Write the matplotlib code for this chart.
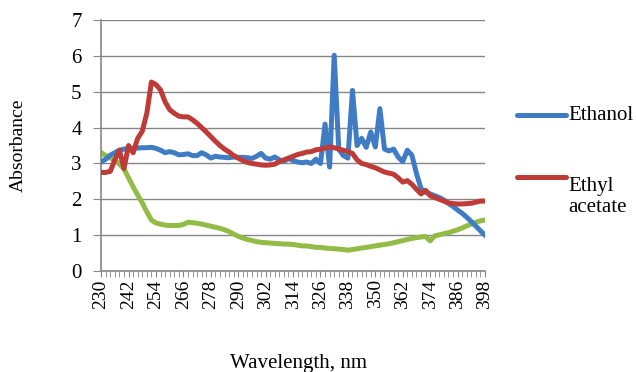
import matplotlib
matplotlib.use("Agg")
import matplotlib.pyplot as plt
import matplotlib.ticker as ticker
from matplotlib.lines import Line2D

plt.rcParams["font.family"] = ["Liberation Serif", "DejaVu Serif"]

wavelength = list(range(230, 400, 2))
tick_labels = [str(w) for w in range(230, 400, 12)]

ethanol = [3.04, 3.12, 3.23, 3.30, 3.37, 3.40, 3.42, 3.42, 3.43, 3.44,
           3.44, 3.45, 3.42, 3.37, 3.30, 3.33, 3.30, 3.24, 3.25, 3.27,
           3.22, 3.22, 3.30, 3.24, 3.15, 3.20, 3.18, 3.17, 3.16, 3.18,
           3.17, 3.17, 3.16, 3.14, 3.20, 3.28, 3.15, 3.12, 3.18, 3.10,
           3.06, 3.14, 3.08, 3.04, 3.02, 3.04, 3.00, 3.12, 3.00, 4.10,
           2.90, 6.02, 3.40, 3.22, 3.15, 5.04, 3.50, 3.70, 3.45, 3.88,
           3.46, 4.53, 3.40, 3.35, 3.40, 3.18, 3.05, 3.37, 3.23, 2.72,
           2.30, 2.20, 2.15, 2.10, 2.05, 1.98, 1.89, 1.80, 1.70, 1.61,
           1.50, 1.38, 1.25, 1.12, 1.00]

ethyl_acetate = [2.75, 2.75, 2.78, 3.10, 3.37, 2.86, 3.50, 3.30, 3.70, 3.90,
                 4.40, 5.27, 5.20, 5.05, 4.72, 4.50, 4.40, 4.32, 4.30, 4.30,
                 4.22, 4.12, 4.00, 3.88, 3.75, 3.62, 3.50, 3.40, 3.32, 3.22,
                 3.15, 3.08, 3.03, 3.00, 2.98, 2.96, 2.95, 2.96, 2.98, 3.05,
                 3.10, 3.15, 3.20, 3.25, 3.28, 3.32, 3.33, 3.38, 3.40, 3.43,
                 3.46, 3.44, 3.40, 3.37, 3.33, 3.28, 3.10, 3.00, 2.97, 2.92,
                 2.88, 2.82, 2.76, 2.73, 2.70, 2.60, 2.48, 2.52, 2.42, 2.28,
                 2.15, 2.25, 2.10, 2.05, 2.00, 1.95, 1.90, 1.88, 1.87, 1.87,
                 1.88, 1.89, 1.92, 1.95, 1.95]

third = [3.30, 3.22, 3.15, 3.09, 2.98, 2.85, 2.60, 2.35, 2.12, 1.90,
         1.65, 1.42, 1.34, 1.31, 1.28, 1.27, 1.27, 1.27, 1.30, 1.36,
         1.35, 1.33, 1.31, 1.28, 1.25, 1.22, 1.19, 1.15, 1.10, 1.03,
         0.97, 0.92, 0.88, 0.85, 0.82, 0.80, 0.79, 0.78, 0.77, 0.76,
         0.75, 0.75, 0.74, 0.72, 0.70, 0.70, 0.68, 0.66, 0.66, 0.64,
         0.63, 0.62, 0.61, 0.60, 0.58, 0.60, 0.62, 0.64, 0.66, 0.68,
         0.70, 0.72, 0.74, 0.76, 0.79, 0.82, 0.85, 0.88, 0.91, 0.93,
         0.95, 0.96, 0.84, 0.98, 1.01, 1.04, 1.07, 1.11, 1.15, 1.20,
         1.26, 1.31, 1.36, 1.40, 1.42]

legend_labels = ["Ethanol", "Ethyl\nacetate"]
colors = ["#3F7CC4", "#BE3B38", "#93BC46"]

fig = plt.figure(figsize=(6.36, 3.72), dpi=100)
ax = fig.add_axes([0.159, 0.2715, 0.6036, 0.6745])

lw = 3.6
ax.plot(wavelength, ethanol, color=colors[0], lw=lw, solid_joinstyle="round", zorder=3)
ax.plot(wavelength, ethyl_acetate, color=colors[1], lw=lw, solid_joinstyle="round", zorder=4)
ax.plot(wavelength, third, color=colors[2], lw=lw, solid_joinstyle="round", zorder=2)

ax.set_xlim(230, 398)
ax.set_ylim(0, 7)
ax.yaxis.set_major_locator(ticker.MultipleLocator(1))
ax.xaxis.set_major_locator(ticker.FixedLocator(range(230, 400, 12)))
ax.xaxis.set_minor_locator(ticker.MultipleLocator(2))
ax.set_xticklabels(tick_labels, rotation=90, fontsize=14)
ax.tick_params(axis="y", labelsize=15, length=6, color="#868686", pad=8)
ax.tick_params(axis="x", which="both", length=4, color="#868686", pad=2)

ax.grid(axis="y", color="#868686", lw=1)
ax.set_axisbelow(True)
for s in ["top", "right"]:
    ax.spines[s].set_visible(False)
for s in ["left", "bottom"]:
    ax.spines[s].set_color("#868686")
    ax.spines[s].set_linewidth(1.2)

ax.set_ylabel("Absorbance", fontsize=14, labelpad=32)
fig.text(0.47, 0.012, "Wavelength, nm", fontsize=15, ha="center", va="baseline")

# legend drawn by hand so the handle sits on the first text line
for k, (lab, y) in enumerate(zip(legend_labels, [0.69, 0.525])):
    fig.add_artist(Line2D([0.813, 0.89], [y, y], color=colors[k], lw=lw,
                          solid_capstyle="round", transform=fig.transFigure))
    fig.text(0.894, y, lab, fontsize=15, ha="left", va="top" if "\n" in lab else "center",
             linespacing=1.2, transform=fig.transFigure)

fig.savefig("out.png", dpi=100)
